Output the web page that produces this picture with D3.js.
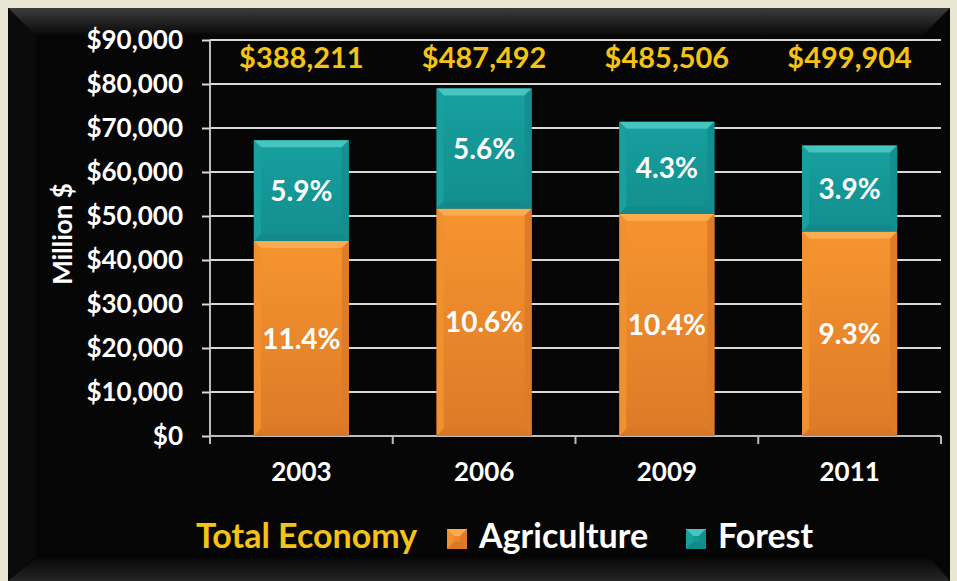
<!DOCTYPE html>
<html><head><meta charset="utf-8">
<script src="https://cdn.jsdelivr.net/npm/d3@7"></script>
<style>
body{margin:0;background:#e9e7d4;overflow:hidden}
svg{display:block;font-family:Lato,"Open Sans",sans-serif;font-weight:700}
</style>
</head><body><svg id="c" width="957" height="581"></svg>
<script>
const years = ["2003", "2006", "2009", "2011"];
const agriculture = [44300, 51700, 50500, 46500];
const forest = [22900, 27300, 20900, 19500];
const totals = ["$388,211", "$487,492", "$485,506", "$499,904"];
const agriPct = ["11.4%", "10.6%", "10.4%", "9.3%"];
const forestPct = ["5.9%", "5.6%", "4.3%", "3.9%"];
const yTicks = [0, 10000, 20000, 30000, 40000, 50000, 60000, 70000, 80000, 90000];
const legendItems = ["Agriculture", "Forest"];

const svg = d3.select("#c");
const defs = svg.append("defs");

function vgrad(id, stops) {
  const g = defs.append("linearGradient").attr("id", id).attr("x1", 0).attr("y1", 0).attr("x2", 0).attr("y2", 1);
  stops.forEach(s => g.append("stop").attr("offset", s[0]).attr("stop-color", s[1]));
}
vgrad("topBevel", [[0, "#3c3c3c"], [1, "#070707"]]);
vgrad("botBevel", [[0, "#080808"], [1, "#262626"]]);
vgrad("orangeMain", [[0, "#f6952f"], [1, "#dc7a28"]]);
vgrad("tealMain", [[0, "#17a09f"], [1, "#138e8e"]]);

// background frame
svg.append("rect").attr("x", 0).attr("y", 0).attr("width", 957).attr("height", 581).attr("fill", "#e9e7d4");
svg.append("rect").attr("x", 8).attr("y", 8).attr("width", 942).attr("height", 573).attr("fill", "#060606");
svg.append("polygon").attr("points", "8,8 950,8 922,36 36,36").attr("fill", "url(#topBevel)");
svg.append("polygon").attr("points", "8,8 36,36 36,556 8,581").attr("fill", "#0b0b0b");
svg.append("polygon").attr("points", "36,558 930,558 950,581 8,581").attr("fill", "url(#botBevel)");

const x = d3.scaleBand().domain(years).range([210, 941]).paddingInner(0.48).paddingOuter(0.24);
const y = d3.scaleLinear().domain([0, 90000]).range([436, 40]);

// gridlines
svg.append("g").selectAll("line").data(yTicks.slice(1)).join("line")
  .attr("x1", 210).attr("x2", 941)
  .attr("y1", d => y(d)).attr("y2", d => y(d))
  .attr("stroke", "#d9d9d9").attr("stroke-width", 2);

// y axis
const yAxis = svg.append("g").attr("transform", "translate(210,0)")
  .call(d3.axisLeft(y).tickValues(yTicks).tickFormat(d3.format("$,")).tickSize(8).tickPadding(19));
yAxis.select(".domain").attr("stroke", "#bdbdbd").attr("stroke-width", 2).attr("d", "M0,40V444");
yAxis.selectAll(".tick line").attr("stroke", "#d9d9d9").attr("stroke-width", 2);
yAxis.selectAll(".tick text").attr("fill", "#ffffff").attr("font-size", 26).attr("font-family", "Lato").attr("font-weight", 700);

// x axis
const xAxis = svg.append("g").attr("transform", "translate(0,436)")
  .call(d3.axisBottom(x).tickSize(0).tickPadding(27));
xAxis.select(".domain").attr("stroke", "#bdbdbd").attr("stroke-width", 2).attr("d", "M210,0H941");
xAxis.selectAll(".tick text").attr("fill", "#ffffff").attr("font-size", 26).attr("font-family", "Lato").attr("font-weight", 700);
const bounds = d3.range(years.length + 1).map(i => x.range()[0] + i * x.step());
xAxis.selectAll("line.bnd").data(bounds).join("line").attr("class", "bnd")
  .attr("x1", d => d).attr("x2", d => d).attr("y1", 0).attr("y2", 8)
  .attr("stroke", "#bdbdbd").attr("stroke-width", 2);

function bevelRect(g, x0, y0, w, h, c) {
  const b = Math.min(7, h / 2);
  g.append("rect").attr("x", x0).attr("y", y0).attr("width", w).attr("height", h).attr("fill", c.main);
  g.append("polygon").attr("points", `${x0},${y0} ${x0 + w},${y0} ${x0 + w - b},${y0 + b} ${x0 + b},${y0 + b}`).attr("fill", c.top);
  g.append("polygon").attr("points", `${x0},${y0} ${x0 + b},${y0 + b} ${x0 + b},${y0 + h - b} ${x0},${y0 + h}`).attr("fill", c.left);
  g.append("polygon").attr("points", `${x0 + w},${y0} ${x0 + w - b},${y0 + b} ${x0 + w - b},${y0 + h - b} ${x0 + w},${y0 + h}`).attr("fill", c.right);
  g.append("polygon").attr("points", `${x0},${y0 + h} ${x0 + b},${y0 + h - b} ${x0 + w - b},${y0 + h - b} ${x0 + w},${y0 + h}`).attr("fill", c.bottom);
}
const orangeC = {main: "url(#orangeMain)", top: "#fbac50", left: "#f0902f", right: "#de7b28", bottom: "#d87826"};
const tealC = {main: "url(#tealMain)", top: "#45c4c0", left: "#18a09f", right: "#138f90", bottom: "#128a8a"};

const bars = svg.append("g");
years.forEach((yr, i) => {
  const bx = x(yr), bw = x.bandwidth();
  const a0 = y(0), a1 = y(agriculture[i]), f1 = y(agriculture[i] + forest[i]);
  bevelRect(bars, bx, a1, bw, a0 - a1, orangeC);
  bevelRect(bars, bx, f1, bw, a1 - f1, tealC);
});

// segment labels
const lbl = svg.append("g").attr("text-anchor", "middle").attr("fill", "#ffffff").attr("font-size", 28);
lbl.selectAll("text.ag").data(years).join("text").attr("class", "ag")
  .attr("x", d => x(d) + x.bandwidth() / 2)
  .attr("y", (d, i) => (y(0) + y(agriculture[i])) / 2).attr("dy", "0.36em")
  .text((d, i) => agriPct[i]);
lbl.selectAll("text.fo").data(years).join("text").attr("class", "fo")
  .attr("x", d => x(d) + x.bandwidth() / 2)
  .attr("y", (d, i) => (y(agriculture[i]) + y(agriculture[i] + forest[i])) / 2).attr("dy", "0.36em")
  .text((d, i) => forestPct[i]);

// totals
svg.append("g").attr("text-anchor", "middle").attr("fill", "#f4c316").attr("font-size", 29)
  .selectAll("text").data(years).join("text")
  .attr("x", d => x(d) + x.bandwidth() / 2).attr("y", 68)
  .text((d, i) => totals[i]);

// y title
svg.append("text").attr("transform", "translate(72,234) rotate(-90)").attr("text-anchor", "middle")
  .attr("fill", "#ffffff").attr("font-size", 26).text("Million $");

// legend
const leg = svg.append("g");
leg.append("text").attr("x", 196).attr("y", 548).attr("fill", "#f4c316").attr("font-size", 34).text("Total Economy");
const legX = [447, 686];
legendItems.forEach((name, i) => {
  const c = i === 0 ? orangeC : tealC;
  const sw = leg.append("g");
  bevelRect(sw, legX[i], 529, 20, 20, c);
  leg.append("text").attr("x", legX[i] + 32).attr("y", 548).attr("fill", "#ffffff").attr("font-size", 34).text(name);
});
</script>
</body></html>
